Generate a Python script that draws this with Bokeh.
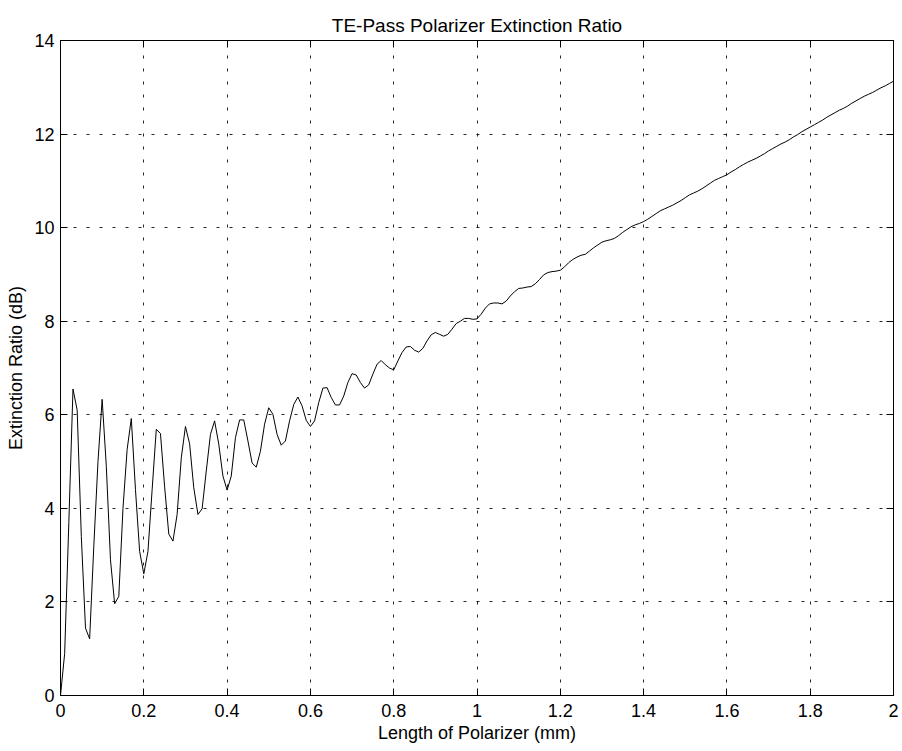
import numpy as np
from bokeh.plotting import figure
from bokeh.models import Range1d, FixedTicker, LinearAxis
from bokeh.embed import file_html
from bokeh.resources import INLINE

title_text = "TE-Pass Polarizer Extinction Ratio"
x_label = "Length of Polarizer (mm)"
y_label = "Extinction Ratio (dB)"

x_ticks = [0, 0.2, 0.4, 0.6, 0.8, 1.0, 1.2, 1.4, 1.6, 1.8, 2.0]
x_tick_labels = ["0", "0.2", "0.4", "0.6", "0.8", "1", "1.2", "1.4", "1.6", "1.8", "2"]
y_ticks = [0, 2, 4, 6, 8, 10, 12, 14]
y_tick_labels = ["0", "2", "4", "6", "8", "10", "12", "14"]

# sampling grid of the length (mm), 0.01 mm steps
length_mm = [round(i * 0.01, 2) for i in range(201)]

# extinction ratio (dB)
extinction_db = [
    0.00, 0.90, 3.70, 6.55, 6.10, 3.40, 1.44, 1.21, 3.20, 5.00,   # 0.00-0.09
    6.33, 4.90, 2.90, 1.96, 2.12, 4.00, 5.26, 5.92, 4.40, 3.08,   # 0.10-0.19
    2.60, 3.08, 4.40, 5.69, 5.60, 4.46, 3.45, 3.30, 3.87, 5.08,   # 0.20-0.29
    5.75, 5.38, 4.44, 3.87, 3.99, 4.80, 5.58, 5.87, 5.37, 4.69,   # 0.30-0.39
    4.39, 4.69, 5.51, 5.89, 5.89, 5.44, 4.97, 4.88, 5.22, 5.80,   # 0.40-0.49
    6.15, 6.01, 5.58, 5.35, 5.44, 5.87, 6.22, 6.38, 6.19, 5.88,   # 0.50-0.59
    5.75, 5.87, 6.26, 6.57, 6.58, 6.37, 6.21, 6.21, 6.40, 6.69,   # 0.60-0.69
    6.88, 6.85, 6.69, 6.57, 6.64, 6.87, 7.08, 7.16, 7.07, 7.00,   # 0.70-0.79
    6.96, 7.15, 7.33, 7.45, 7.46, 7.38, 7.34, 7.42, 7.58, 7.71,   # 0.80-0.89
    7.76, 7.72, 7.68, 7.72, 7.83, 7.95, 8.00, 8.06, 8.06, 8.04,   # 0.90-0.99
    8.05, 8.15, 8.28, 8.37, 8.39, 8.39, 8.37, 8.43, 8.54, 8.63,   # 1.00-1.09
    8.70, 8.71, 8.73, 8.74, 8.80, 8.89, 8.99, 9.04, 9.06, 9.07,   # 1.10-1.19
    9.09, 9.16, 9.25, 9.32, 9.37, 9.41, 9.43, 9.50, 9.57, 9.63,   # 1.20-1.29
    9.69, 9.72, 9.74, 9.77, 9.83, 9.90, 9.96, 10.02, 10.06, 10.09,  # 1.30-1.39
    10.13, 10.18, 10.24, 10.30, 10.36, 10.40, 10.44, 10.48, 10.53, 10.58,  # 1.40-1.49
    10.64, 10.70, 10.74, 10.78, 10.83, 10.89, 10.95, 11.01, 11.05, 11.09,  # 1.50-1.59
    11.13, 11.19, 11.24, 11.30, 11.35, 11.40, 11.44, 11.48, 11.53, 11.58,  # 1.60-1.69
    11.64, 11.69, 11.74, 11.79, 11.83, 11.88, 11.94, 11.99, 12.05, 12.10,  # 1.70-1.79
    12.15, 12.20, 12.25, 12.30, 12.36, 12.41, 12.46, 12.51, 12.55, 12.60,  # 1.80-1.89
    12.66, 12.71, 12.76, 12.81, 12.85, 12.89, 12.94, 12.99, 13.03, 13.08,  # 1.90-1.99
    13.13,                                                           # 2.00
]

FONT = "Liberation Sans"

p = figure(width=902, height=751,
           x_range=Range1d(0, 2), y_range=Range1d(0, 14),
           output_backend="svg", toolbar_location=None,
           min_border_left=60, min_border_right=9,
           min_border_top=40, min_border_bottom=56)

p.background_fill_color = "white"
p.border_fill_color = "white"
p.outline_line_color = "black"
p.outline_line_width = 1

p.title.text = title_text
p.title.text_font = FONT
p.title.text_font_size = "19px"
p.title.text_font_style = "normal"
p.title.text_color = "black"
p.title.align = "center"

x_over = {t: l for t, l in zip(x_ticks, x_tick_labels)}
y_over = {t: l for t, l in zip(y_ticks, y_tick_labels)}

xa = p.xaxis[0]
xa.ticker = FixedTicker(ticks=x_ticks)
xa.major_label_overrides = x_over
xa.axis_label = x_label
xa.major_label_standoff = 8
xa.axis_label_standoff = 3

ya = p.yaxis[0]
ya.ticker = FixedTicker(ticks=y_ticks)
ya.major_label_overrides = y_over
ya.axis_label = y_label
ya.major_label_standoff = 6
ya.axis_label_standoff = 5

for ax in (xa, ya):
    ax.major_tick_in = 7
    ax.major_tick_out = 0
    ax.minor_tick_line_color = None
    ax.axis_line_color = "black"
    ax.major_tick_line_color = "black"
    ax.major_label_text_font = FONT
    ax.major_label_text_font_size = "18px"
    ax.major_label_text_color = "black"
    ax.axis_label_text_font = FONT
    ax.axis_label_text_font_size = "18px"
    ax.axis_label_text_font_style = "normal"
    ax.axis_label_text_color = "black"

# tick-only axes on top and right (box with inward ticks), no labels drawn
top_ax = LinearAxis(ticker=FixedTicker(ticks=x_ticks), major_label_text_font_size="0px",
                    major_label_text_color=None, major_label_text_alpha=0,
                    major_tick_in=7, major_tick_out=0, minor_tick_line_color=None,
                    axis_line_color="black", major_tick_line_color="black",
                    major_label_standoff=0)
right_ax = LinearAxis(ticker=FixedTicker(ticks=y_ticks), major_label_text_font_size="0px",
                      major_label_text_color=None, major_label_text_alpha=0,
                      major_tick_in=7, major_tick_out=0, minor_tick_line_color=None,
                      axis_line_color="black", major_tick_line_color="black",
                      major_label_standoff=0)
p.add_layout(top_ax, "above")
p.add_layout(right_ax, "right")

p.xgrid.ticker = FixedTicker(ticks=x_ticks)
p.ygrid.ticker = FixedTicker(ticks=y_ticks)
for g in (p.xgrid, p.ygrid):
    g.grid_line_color = "black"
    g.grid_line_alpha = 0.85
    g.grid_line_dash = "3 10"
    g.grid_line_width = 1

p.line(length_mm, extinction_db, line_color="black", line_width=1)

open("out.html", "w").write(file_html(p, INLINE))
